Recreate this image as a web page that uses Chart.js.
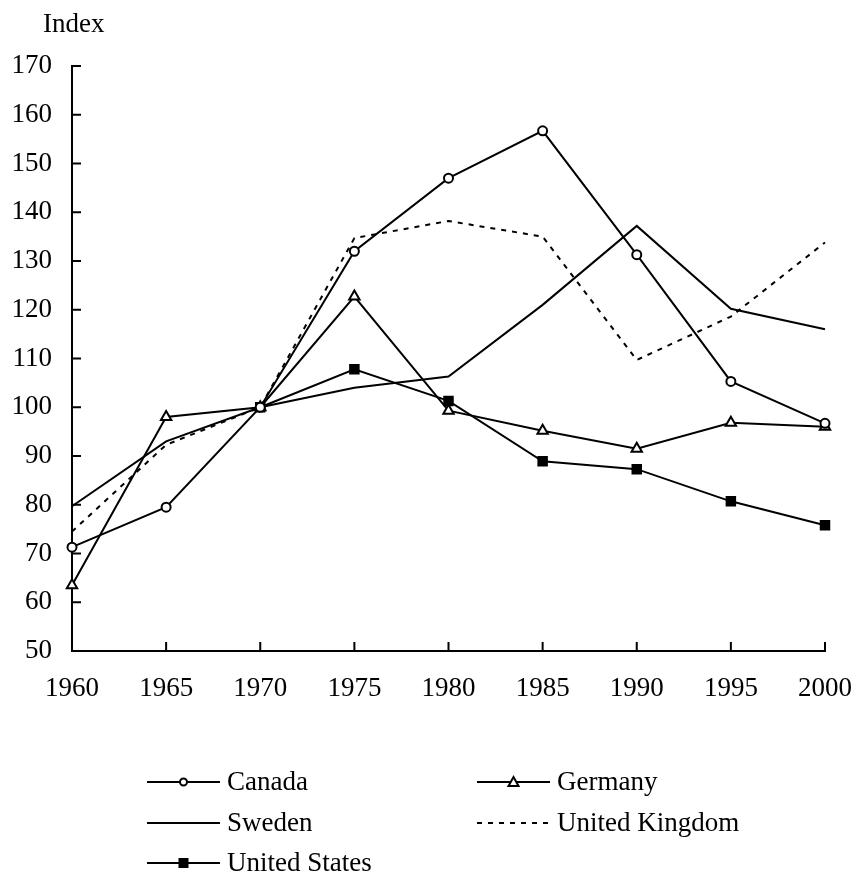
<!DOCTYPE html>
<html>
<head>
<meta charset="utf-8">
<script src="https://cdn.jsdelivr.net/npm/chart.js@4/dist/chart.umd.min.js"></script>
<style>
  html, body { margin: 0; padding: 0; background: #fff; }
  #wrap { width: 853px; height: 878px; }
</style>
</head>
<body>
<div id="wrap"><canvas id="myChart" width="853" height="878"></canvas></div>
<script>
// Dữ liệu
const years = ['1960', '1965', '1970', '1975', '1980', '1985', '1990', '1995', '2000'];
const canada = [71.3, 79.5, 100, 132, 147, 156.7, 131.3, 105.3, 96.7];
const germany = [63.5, 98, 100, 122.7, 99.3, 95.2, 91.5, 96.8, 96];
const sweden = [79.7, 93, 100, 104, 106.3, 121, 137.2, 120.2, 116];
const uk = [74.5, 92.3, 100, 134.7, 138.2, 135, 109.7, 118.6, 133.8];
const us = [null, null, 100, 107.8, 101.3, 88.9, 87.3, 80.7, 75.8];
const yTicks = [50, 60, 70, 80, 90, 100, 110, 120, 130, 140, 150, 160, 170];

const FONT = 'Liberation Serif, Times New Roman, serif';

// Vạch chia hướng vào trong, nhãn "Index" và chú thích
const extras = {
  id: 'extras',
  afterDraw(chart) {
    const ctx = chart.ctx;
    const xs = chart.scales.x, ys = chart.scales.y;
    ctx.save();
    ctx.strokeStyle = '#000';
    ctx.lineWidth = 2;
    ys.ticks.forEach((t, i) => {
      const py = ys.getPixelForTick(i);
      ctx.beginPath();
      ctx.moveTo(xs.left, py);
      ctx.lineTo(xs.left + 9, py);
      ctx.stroke();
    });
    xs.ticks.forEach((t, i) => {
      const px = xs.getPixelForTick(i);
      ctx.beginPath();
      ctx.moveTo(px, ys.bottom);
      ctx.lineTo(px, ys.bottom - 9);
      ctx.stroke();
    });

    ctx.fillStyle = '#000';
    ctx.font = '27px ' + FONT;
    ctx.textAlign = 'left';
    ctx.textBaseline = 'alphabetic';
    ctx.fillText('Index', 43, 32);

    // chú thích 2 cột
    const cols = [147, 477];
    const rows = [782, 823, 863];
    chart.data.datasets.forEach((ds, i) => {
      const x0 = cols[i % 2], y0 = rows[Math.floor(i / 2)];
      const x1 = x0 + 73, xm = (x0 + x1) / 2;
      ctx.lineWidth = 2;
      ctx.strokeStyle = '#000';
      ctx.setLineDash(ds.borderDash || []);
      ctx.beginPath();
      ctx.moveTo(x0, y0);
      ctx.lineTo(x1, y0);
      ctx.stroke();
      ctx.setLineDash([]);
      ctx.fillStyle = ds.pointBackgroundColor || '#fff';
      if (ds.pointRadius > 0) {
        ctx.beginPath();
        if (ds.pointStyle === 'circle') {
          ctx.arc(xm, y0, 3.5, 0, Math.PI * 2);
        } else if (ds.pointStyle === 'triangle') {
          ctx.moveTo(xm, y0 - 5);
          ctx.lineTo(xm + 5, y0 + 4);
          ctx.lineTo(xm - 5, y0 + 4);
          ctx.closePath();
        } else {
          ctx.rect(xm - 4, y0 - 4, 8, 8);
        }
        ctx.fill();
        ctx.stroke();
      }
      ctx.fillStyle = '#000';
      ctx.textBaseline = 'middle';
      ctx.fillText(ds.label, x1 + 7, y0 + 1);
    });
    ctx.restore();
  }
};

function line(label, data, extra) {
  return Object.assign({
    label: label,
    data: data,
    borderColor: '#000',
    borderWidth: 2,
    tension: 0,
    pointRadius: 0,
    pointBorderColor: '#000',
    pointBorderWidth: 2,
    pointBackgroundColor: '#fff',
    clip: false,
    spanGaps: false
  }, extra || {});
}

var ctx = document.getElementById('myChart').getContext('2d');
var myChart = new Chart(ctx, {
  type: 'line',
  data: {
    labels: years,
    datasets: [
      line('Canada', canada, { pointStyle: 'circle', pointRadius: 4.5 }),
      line('Germany', germany, { pointStyle: 'triangle', pointRadius: 6 }),
      line('Sweden', sweden),
      line('United Kingdom', uk, { borderDash: [5, 6] }),
      line('United States', us, { pointStyle: 'rect', pointRadius: 6, pointBackgroundColor: '#000' })
    ]
  },
  options: {
    responsive: false,
    devicePixelRatio: 1,
    animation: false,
    layout: { padding: { top: 66, right: 0, bottom: 167, left: 0 } },
    plugins: {
      legend: { display: false },
      tooltip: { enabled: false }
    },
    scales: {
      x: {
        grid: { drawOnChartArea: false, drawTicks: false },
        border: { display: true, color: '#000', width: 2 },
        ticks: { color: '#000', font: { family: FONT, size: 27 }, padding: 22, maxRotation: 0 },
        afterFit: s => { s.height = 60; s.paddingRight = 28; }
      },
      y: {
        min: 50,
        max: 170,
        afterBuildTicks: s => { s.ticks = yTicks.map(v => ({ value: v })); },
        grid: { drawOnChartArea: false, drawTicks: false },
        border: { display: true, color: '#000', width: 2 },
        ticks: { color: '#000', font: { family: FONT, size: 27 }, padding: 20 },
        afterFit: s => { s.width = 72; }
      }
    }
  },
  plugins: [extras]
});
</script>
</body>
</html>
